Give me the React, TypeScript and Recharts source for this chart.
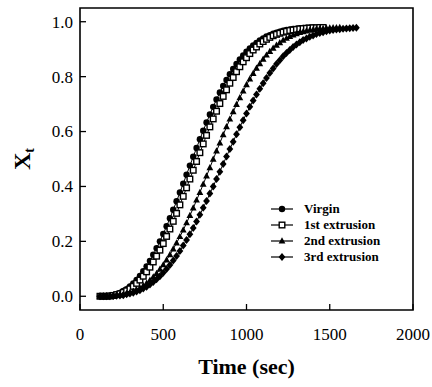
import React from 'react';
import { LineChart, Line, XAxis, YAxis, ReferenceArea, Legend } from 'recharts';

const times = [
  120, 140, 160, 180, 200, 220, 240, 260, 280, 300, 320, 340, 360, 380, 400, 420, 440, 460, 480, 500,
  520, 540, 560, 580, 600, 620, 640, 660, 680, 700, 720, 740, 760, 780, 800, 820, 840, 860, 880, 900,
  920, 940, 960, 980, 1000, 1020, 1040, 1060, 1080, 1100, 1120, 1140, 1160, 1180, 1200, 1220, 1240,
  1260, 1280, 1300, 1320, 1340, 1360, 1380, 1400, 1420, 1440, 1460, 1480, 1500, 1520, 1540, 1560,
  1580, 1600, 1620, 1640, 1660,
];

const virgin = [
  0, 0.0, 0.001, 0.002, 0.004, 0.008, 0.012, 0.019, 0.026, 0.036,
  0.047, 0.059, 0.074, 0.091, 0.109, 0.129, 0.151, 0.175, 0.2, 0.227,
  0.255, 0.284, 0.315, 0.346, 0.378, 0.41, 0.443, 0.476, 0.508, 0.54,
  0.572, 0.603, 0.633, 0.662, 0.69, 0.717, 0.742, 0.766, 0.788, 0.809,
  0.828, 0.846, 0.863, 0.877, 0.891, 0.903, 0.914, 0.923, 0.932, 0.939,
  0.946, 0.951, 0.956, 0.96, 0.964, 0.967, 0.97, 0.972, 0.974, 0.975,
  0.976, 0.977, 0.978, 0.978, 0.979,
];

const firstExtrusion = [
  0, 0.0, 0.0, 0.001, 0.003, 0.006, 0.009, 0.014, 0.02, 0.027,
  0.036, 0.047, 0.059, 0.073, 0.089, 0.106, 0.125, 0.146, 0.168, 0.192,
  0.218, 0.245, 0.273, 0.302, 0.333, 0.364, 0.395, 0.427, 0.459, 0.491,
  0.523, 0.555, 0.586, 0.617, 0.646, 0.674, 0.702, 0.728, 0.752, 0.776,
  0.797, 0.818, 0.836, 0.854, 0.869, 0.884, 0.897, 0.908, 0.919, 0.928,
  0.936, 0.943, 0.949, 0.954, 0.958, 0.962, 0.965, 0.968, 0.97, 0.972,
  0.974, 0.975, 0.976, 0.977, 0.978, 0.978, 0.979, 0.979,
];

const secondExtrusion = [
  0, 0.0, 0.0, 0.0, 0.001, 0.002, 0.004, 0.006, 0.009, 0.013,
  0.018, 0.023, 0.03, 0.038, 0.047, 0.058, 0.07, 0.083, 0.098, 0.114,
  0.132, 0.151, 0.172, 0.194, 0.217, 0.241, 0.267, 0.294, 0.321, 0.35,
  0.378, 0.408, 0.438, 0.468, 0.499, 0.529, 0.558, 0.588, 0.617, 0.645,
  0.672, 0.698, 0.723, 0.747, 0.77, 0.791, 0.811, 0.83, 0.847, 0.863,
  0.878, 0.891, 0.903, 0.914, 0.923, 0.932, 0.939, 0.946, 0.951, 0.956,
  0.96, 0.963, 0.966, 0.969, 0.971, 0.973, 0.974, 0.975, 0.976, 0.977,
  0.978, 0.978, 0.979,
];

const thirdExtrusion = [
  0, 0.0, 0.0, 0.0, 0.001, 0.002, 0.003, 0.004, 0.007, 0.01,
  0.013, 0.017, 0.022, 0.028, 0.035, 0.043, 0.052, 0.062, 0.073, 0.086,
  0.099, 0.114, 0.13, 0.147, 0.165, 0.185, 0.205, 0.226, 0.249, 0.272,
  0.297, 0.322, 0.347, 0.374, 0.4, 0.427, 0.454, 0.482, 0.509, 0.536,
  0.563, 0.59, 0.616, 0.641, 0.666, 0.69, 0.713, 0.735, 0.756, 0.776,
  0.795, 0.813, 0.83, 0.846, 0.86, 0.874, 0.886, 0.897, 0.908, 0.917,
  0.925, 0.933, 0.939, 0.945, 0.95, 0.955, 0.959, 0.962, 0.965, 0.968,
  0.97, 0.972, 0.973, 0.974, 0.975, 0.976, 0.977, 0.978,
];

const xTicks = [0, 500, 1000, 1500, 2000];
const yTicks = [0, 0.2, 0.4, 0.6, 0.8, 1.0];

type Shape = 'circle' | 'square' | 'triangle' | 'diamond';

const series: { name: string; values: number[]; shape: Shape }[] = [
  { name: 'Virgin', values: virgin, shape: 'circle' },
  { name: '1st extrusion', values: firstExtrusion, shape: 'square' },
  { name: '2nd extrusion', values: secondExtrusion, shape: 'triangle' },
  { name: '3rd extrusion', values: thirdExtrusion, shape: 'diamond' },
];

const toPoints = (values: number[]) => values.map((x, i) => ({ t: times[i], x }));

const SERIF = '"Liberation Serif", "Times New Roman", serif';

const Marker = ({ shape, cx, cy }: { shape: Shape; cx: number; cy: number }) => {
  if (shape === 'circle') return <circle cx={cx} cy={cy} r={3.2} fill="#000" />;
  if (shape === 'square')
    return <rect x={cx - 2.8} y={cy - 2.8} width={5.6} height={5.6} fill="#fff" stroke="#000" strokeWidth={1.4} />;
  if (shape === 'triangle')
    return <polygon points={`${cx},${cy - 3.8} ${cx + 3.4},${cy + 2.4} ${cx - 3.4},${cy + 2.4}`} fill="#000" />;
  return <polygon points={`${cx},${cy - 4} ${cx + 3.4},${cy} ${cx},${cy + 4} ${cx - 3.4},${cy}`} fill="#000" />;
};

const makeDot = (shape: Shape) => (props: any) => {
  const { cx, cy, index } = props;
  if (cx == null || cy == null) return <g key={index} />;
  return <Marker key={index} shape={shape} cx={cx} cy={cy} />;
};

const XTick = (props: any) => {
  const { x, y, payload } = props;
  return (
    <g>
      <line x1={x} y1={y} x2={x} y2={y - 6} stroke="#000" strokeWidth={1.3} />
      <text x={x} y={y + 30} textAnchor="middle" fontFamily={SERIF} fontSize={17} fill="#000">
        {payload.value}
      </text>
    </g>
  );
};

const YTick = (props: any) => {
  const { x, y, payload } = props;
  return (
    <g>
      <line x1={x} y1={y} x2={x + 6} y2={y} stroke="#000" strokeWidth={1.3} />
      <text x={x - 7} y={y} dy="0.35em" textAnchor="end" fontFamily={SERIF} fontSize={17} fill="#000">
        {Number(payload.value).toFixed(1)}
      </text>
    </g>
  );
};

const XTitle = (props: any) => {
  const { viewBox } = props;
  return (
    <text
      x={viewBox.x + viewBox.width / 2}
      y={viewBox.y + 64}
      textAnchor="middle"
      fontFamily={SERIF}
      fontWeight="bold"
      fontSize={22}
      fill="#000"
    >
      Time (sec)
    </text>
  );
};

const YTitle = (props: any) => {
  const { viewBox } = props;
  const cy = viewBox.y + viewBox.height / 2;
  return (
    <text
      transform={`translate(30, ${cy}) rotate(-90)`}
      textAnchor="middle"
      fontFamily={SERIF}
      fontWeight="bold"
      fontSize={24}
      fill="#000"
    >
      X<tspan fontSize={14} dy={4}>t</tspan>
    </text>
  );
};

const LegendBox = () => (
  <div style={{ fontFamily: SERIF, fontWeight: 'bold', fontSize: 13, color: '#000' }}>
    {series.map((s) => (
      <div key={s.name} style={{ display: 'flex', alignItems: 'center', height: 16 }}>
        <svg width={24} height={10} style={{ marginRight: 10 }}>
          <line x1={1} y1={5} x2={23} y2={5} stroke="#000" strokeWidth={1.2} />
          <Marker shape={s.shape} cx={12} cy={5} />
        </svg>
        <span style={{ lineHeight: '16px' }}>{s.name}</span>
      </div>
    ))}
  </div>
);

export default function App() {
  return (
    <div style={{ position: 'absolute', left: 0, top: 0, width: 432, height: 387, background: '#fff' }}>
      <LineChart width={432} height={387} margin={{ top: 8, right: 19, bottom: 17, left: 20 }}>
        <XAxis
          type="number"
          dataKey="t"
          domain={[0, 2000]}
          ticks={xTicks}
          axisLine={false}
          tickLine={false}
          tickSize={0}
          tickMargin={0}
          height={60}
          tick={XTick}
          interval={0}
          label={<XTitle />}
        />
        <YAxis
          type="number"
          dataKey="x"
          domain={[-0.05, 1.05]}
          ticks={yTicks}
          axisLine={false}
          tickLine={false}
          tickSize={0}
          tickMargin={0}
          width={60}
          tick={YTick}
          interval={0}
          label={<YTitle />}
        />
        <ReferenceArea
          x1={0}
          x2={2000}
          y1={-0.05}
          y2={1.05}
          fill="none"
          stroke="#000"
          strokeWidth={1.6}
          fillOpacity={0}
        />
        {series.map((s) => (
          <Line
            key={s.name}
            name={s.name}
            data={toPoints(s.values)}
            dataKey="x"
            type="linear"
            stroke="#000"
            strokeWidth={1}
            dot={makeDot(s.shape)}
            activeDot={false}
            isAnimationActive={false}
          />
        ))}
        <Legend
          layout="vertical"
          align="center"
          verticalAlign="middle"
          wrapperStyle={{ left: 270, top: 201, width: 'auto' }}
          content={() => <LegendBox />}
        />
      </LineChart>
    </div>
  );
}
